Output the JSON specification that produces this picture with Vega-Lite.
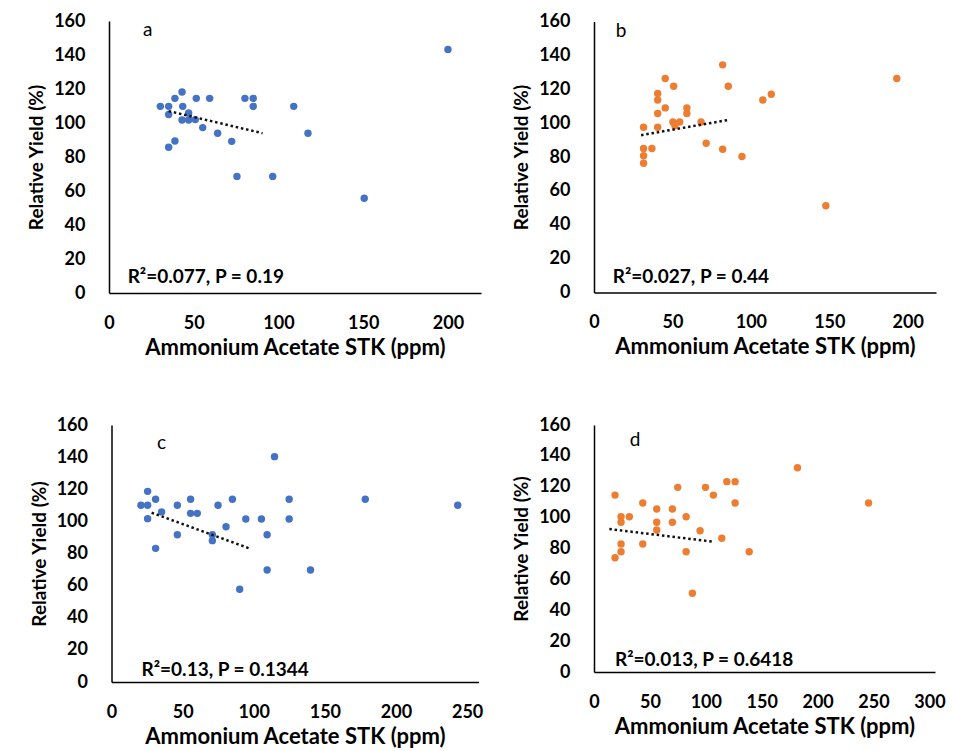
{
  "$schema": "https://vega.github.io/schema/vega-lite/v6.json",
  "background": "white",
  "padding": {"left": 27, "top": 12, "right": 5, "bottom": 5},
  "columns": 2,
  "bounds": "flush",
  "center": true,
  "spacing": {"row": 132, "column": 113},
  "datasets": {
    "pts": [
      {"panel": "a", "x": 200, "y": 143.3}, {"panel": "a", "x": 43.1, "y": 118.2}, {"panel": "a", "x": 38.9, "y": 114.5}, {"panel": "a", "x": 51.5, "y": 114.5}, {"panel": "a", "x": 59.4, "y": 114.5}, {"panel": "a", "x": 80.2, "y": 114.5}, {"panel": "a", "x": 85.1, "y": 114.5}, {"panel": "a", "x": 30.3, "y": 109.8}, {"panel": "a", "x": 35.2, "y": 109.8}, {"panel": "a", "x": 43.5, "y": 109.8}, {"panel": "a", "x": 85.1, "y": 109.8}, {"panel": "a", "x": 109, "y": 109.8}, {"panel": "a", "x": 35.2, "y": 105}, {"panel": "a", "x": 47, "y": 105.9}, {"panel": "a", "x": 43.1, "y": 101.8}, {"panel": "a", "x": 47, "y": 101.8}, {"panel": "a", "x": 50.9, "y": 102}, {"panel": "a", "x": 55.3, "y": 97.3}, {"panel": "a", "x": 64.1, "y": 94}, {"panel": "a", "x": 117.4, "y": 94}, {"panel": "a", "x": 72.4, "y": 89.2}, {"panel": "a", "x": 38.9, "y": 89.4}, {"panel": "a", "x": 35.2, "y": 85.7}, {"panel": "a", "x": 75.5, "y": 68.6}, {"panel": "a", "x": 96.6, "y": 68.6}, {"panel": "a", "x": 150.6, "y": 55.7},
      {"panel": "b", "x": 193, "y": 126.3}, {"panel": "b", "x": 147.8, "y": 51.2}, {"panel": "b", "x": 82, "y": 134.4}, {"panel": "b", "x": 85.6, "y": 121.8}, {"panel": "b", "x": 45.4, "y": 126.3}, {"panel": "b", "x": 50.8, "y": 121.8}, {"panel": "b", "x": 40.6, "y": 117.5}, {"panel": "b", "x": 40.6, "y": 113.7}, {"panel": "b", "x": 45.4, "y": 109}, {"panel": "b", "x": 40.6, "y": 105.7}, {"panel": "b", "x": 59.2, "y": 109}, {"panel": "b", "x": 59.2, "y": 105.7}, {"panel": "b", "x": 107.6, "y": 113.7}, {"panel": "b", "x": 113, "y": 117}, {"panel": "b", "x": 31.6, "y": 97.6}, {"panel": "b", "x": 40.6, "y": 97.6}, {"panel": "b", "x": 50.3, "y": 100.7}, {"panel": "b", "x": 54.6, "y": 100.7}, {"panel": "b", "x": 51.6, "y": 98.4}, {"panel": "b", "x": 68.2, "y": 100.7}, {"panel": "b", "x": 71.5, "y": 88.1}, {"panel": "b", "x": 82, "y": 84.6}, {"panel": "b", "x": 94.3, "y": 80.3}, {"panel": "b", "x": 31.6, "y": 85}, {"panel": "b", "x": 36.9, "y": 85}, {"panel": "b", "x": 31.6, "y": 80.7}, {"panel": "b", "x": 31.6, "y": 76.3},
      {"panel": "c", "x": 114.6, "y": 140.3}, {"panel": "c", "x": 178.4, "y": 113.8}, {"panel": "c", "x": 243.4, "y": 110}, {"panel": "c", "x": 25.4, "y": 118.7}, {"panel": "c", "x": 20.7, "y": 110}, {"panel": "c", "x": 25.4, "y": 110}, {"panel": "c", "x": 31, "y": 113.8}, {"panel": "c", "x": 35.2, "y": 105.9}, {"panel": "c", "x": 25.4, "y": 101.7}, {"panel": "c", "x": 31, "y": 83.2}, {"panel": "c", "x": 46.3, "y": 110}, {"panel": "c", "x": 46.3, "y": 91.7}, {"panel": "c", "x": 55.6, "y": 113.8}, {"panel": "c", "x": 55.6, "y": 105}, {"panel": "c", "x": 60.3, "y": 105}, {"panel": "c", "x": 74.9, "y": 110}, {"panel": "c", "x": 85, "y": 113.8}, {"panel": "c", "x": 80.5, "y": 96.7}, {"panel": "c", "x": 70.9, "y": 91.7}, {"panel": "c", "x": 70.9, "y": 88}, {"panel": "c", "x": 94.4, "y": 101.5}, {"panel": "c", "x": 105.4, "y": 101.5}, {"panel": "c", "x": 124.9, "y": 113.8}, {"panel": "c", "x": 124.9, "y": 101.5}, {"panel": "c", "x": 109.4, "y": 91.7}, {"panel": "c", "x": 109.4, "y": 69.7}, {"panel": "c", "x": 139.9, "y": 69.7}, {"panel": "c", "x": 90.1, "y": 57.7},
      {"panel": "d", "x": 182, "y": 132.3}, {"panel": "d", "x": 245.6, "y": 109.5}, {"panel": "d", "x": 18.8, "y": 114.6}, {"panel": "d", "x": 74.9, "y": 119.6}, {"panel": "d", "x": 99.7, "y": 119.6}, {"panel": "d", "x": 106.8, "y": 114.6}, {"panel": "d", "x": 118.8, "y": 123.3}, {"panel": "d", "x": 126.2, "y": 123.3}, {"panel": "d", "x": 126.2, "y": 109.5}, {"panel": "d", "x": 43.6, "y": 109.5}, {"panel": "d", "x": 56.1, "y": 105.6}, {"panel": "d", "x": 70.1, "y": 105.6}, {"panel": "d", "x": 24.2, "y": 100.6}, {"panel": "d", "x": 31.6, "y": 100.6}, {"panel": "d", "x": 24.2, "y": 97}, {"panel": "d", "x": 56.1, "y": 97}, {"panel": "d", "x": 70.1, "y": 97}, {"panel": "d", "x": 82.4, "y": 100.6}, {"panel": "d", "x": 56.1, "y": 92}, {"panel": "d", "x": 94.9, "y": 91.5}, {"panel": "d", "x": 114.3, "y": 86.6}, {"panel": "d", "x": 24.2, "y": 82.9}, {"panel": "d", "x": 43.6, "y": 82.9}, {"panel": "d", "x": 24.2, "y": 77.9}, {"panel": "d", "x": 18.8, "y": 74}, {"panel": "d", "x": 82.4, "y": 77.9}, {"panel": "d", "x": 138.8, "y": 77.9}, {"panel": "d", "x": 88, "y": 51}
    ],
    "trend": [
      {"panel": "a", "x": 35.2, "y": 107}, {"panel": "a", "x": 90.6, "y": 94},
      {"panel": "b", "x": 30, "y": 92.9}, {"panel": "b", "x": 85.8, "y": 101.9},
      {"panel": "c", "x": 28.2, "y": 105.4}, {"panel": "c", "x": 98.1, "y": 82.8},
      {"panel": "d", "x": 13.7, "y": 92.6}, {"panel": "d", "x": 106.8, "y": 84.4}
    ],
    "notes": [
      {"panel": "a", "kind": "stat", "x": 11, "y": 9.4, "label": "R²=0.077, P = 0.19"},
      {"panel": "a", "kind": "letter", "x": 22.8, "y": 154.7, "label": "a"},
      {"panel": "b", "kind": "stat", "x": 11.9, "y": 8.9, "label": "R²=0.027, P = 0.44"},
      {"panel": "b", "kind": "letter", "x": 17.2, "y": 154.5, "label": "b"},
      {"panel": "c", "kind": "stat", "x": 21.1, "y": 7.5, "label": "R²=0.13, P = 0.1344"},
      {"panel": "c", "kind": "letter", "x": 35.2, "y": 148.6, "label": "c"},
      {"panel": "d", "kind": "stat", "x": 18.8, "y": 7.8, "label": "R²=0.013, P = 0.6418"},
      {"panel": "d", "kind": "letter", "x": 36.7, "y": 150.3, "label": "d"}
    ]
  },
  "concat": [
    {
      "width": 372, "height": 272,
      "encoding": {
        "x": {"field": "x", "type": "quantitative", "scale": {"domain": [0, 219.5], "nice": false}, "axis": {"values": [0, 50, 100, 150, 200], "title": "Ammonium Acetate STK (ppm)"}},
        "y": {"field": "y", "type": "quantitative", "scale": {"domain": [0, 160], "nice": false}, "axis": {"values": [0, 20, 40, 60, 80, 100, 120, 140, 160], "title": "Relative Yield (%)"}}
      },
      "layer": [
        {"data": {"name": "pts"}, "transform": [{"filter": "datum.panel === 'a'"}], "mark": {"type": "circle", "size": 55, "opacity": 1, "color": "#4472C4"}},
        {"data": {"name": "trend"}, "transform": [{"filter": "datum.panel === 'a'"}], "mark": {"type": "line", "color": "#111111", "strokeWidth": 2.5, "strokeDash": [2.5, 2.8]}},
        {"data": {"name": "notes"}, "transform": [{"filter": "datum.panel === 'a' && datum.kind === 'stat'"}], "mark": {"type": "text", "align": "left", "baseline": "middle", "font": "Lato", "fontWeight": "bold", "fontSize": 19, "color": "#000"}, "encoding": {"text": {"field": "label"}}},
        {"data": {"name": "notes"}, "transform": [{"filter": "datum.panel === 'a' && datum.kind === 'letter'"}], "mark": {"type": "text", "align": "center", "baseline": "middle", "font": "Lato", "fontSize": 19, "color": "#000"}, "encoding": {"text": {"field": "label"}}}
      ]
    },
    {
      "width": 342, "height": 271,
      "encoding": {
        "x": {"field": "x", "type": "quantitative", "scale": {"domain": [0, 218], "nice": false}, "axis": {"values": [0, 50, 100, 150, 200], "title": "Ammonium Acetate STK (ppm)"}},
        "y": {"field": "y", "type": "quantitative", "scale": {"domain": [0, 160], "nice": false}, "axis": {"values": [0, 20, 40, 60, 80, 100, 120, 140, 160], "title": "Relative Yield (%)"}}
      },
      "layer": [
        {"data": {"name": "pts"}, "transform": [{"filter": "datum.panel === 'b'"}], "mark": {"type": "circle", "size": 55, "opacity": 1, "color": "#ED7D31"}},
        {"data": {"name": "trend"}, "transform": [{"filter": "datum.panel === 'b'"}], "mark": {"type": "line", "color": "#111111", "strokeWidth": 2.5, "strokeDash": [2.5, 2.8]}},
        {"data": {"name": "notes"}, "transform": [{"filter": "datum.panel === 'b' && datum.kind === 'stat'"}], "mark": {"type": "text", "align": "left", "baseline": "middle", "font": "Lato", "fontWeight": "bold", "fontSize": 19, "color": "#000"}, "encoding": {"text": {"field": "label"}}},
        {"data": {"name": "notes"}, "transform": [{"filter": "datum.panel === 'b' && datum.kind === 'letter'"}], "mark": {"type": "text", "align": "center", "baseline": "middle", "font": "Lato", "fontSize": 19, "color": "#000"}, "encoding": {"text": {"field": "label"}}}
      ]
    },
    {
      "width": 367, "height": 257,
      "encoding": {
        "x": {"field": "x", "type": "quantitative", "scale": {"domain": [0, 258], "nice": false}, "axis": {"values": [0, 50, 100, 150, 200, 250], "title": "Ammonium Acetate STK (ppm)"}},
        "y": {"field": "y", "type": "quantitative", "scale": {"domain": [0, 160], "nice": false}, "axis": {"values": [0, 20, 40, 60, 80, 100, 120, 140, 160], "title": "Relative Yield (%)"}}
      },
      "layer": [
        {"data": {"name": "pts"}, "transform": [{"filter": "datum.panel === 'c'"}], "mark": {"type": "circle", "size": 55, "opacity": 1, "color": "#4472C4"}},
        {"data": {"name": "trend"}, "transform": [{"filter": "datum.panel === 'c'"}], "mark": {"type": "line", "color": "#111111", "strokeWidth": 2.5, "strokeDash": [2.5, 2.8]}},
        {"data": {"name": "notes"}, "transform": [{"filter": "datum.panel === 'c' && datum.kind === 'stat'"}], "mark": {"type": "text", "align": "left", "baseline": "middle", "font": "Lato", "fontWeight": "bold", "fontSize": 19, "color": "#000"}, "encoding": {"text": {"field": "label"}}},
        {"data": {"name": "notes"}, "transform": [{"filter": "datum.panel === 'c' && datum.kind === 'letter'"}], "mark": {"type": "text", "align": "center", "baseline": "middle", "font": "Lato", "fontSize": 19, "color": "#000"}, "encoding": {"text": {"field": "label"}}}
      ]
    },
    {
      "width": 341, "height": 247,
      "encoding": {
        "x": {"field": "x", "type": "quantitative", "scale": {"domain": [0, 305], "nice": false}, "axis": {"values": [0, 50, 100, 150, 200, 250, 300], "title": "Ammonium Acetate STK (ppm)"}},
        "y": {"field": "y", "type": "quantitative", "scale": {"domain": [0, 160], "nice": false}, "axis": {"values": [0, 20, 40, 60, 80, 100, 120, 140, 160], "title": "Relative Yield (%)"}}
      },
      "layer": [
        {"data": {"name": "pts"}, "transform": [{"filter": "datum.panel === 'd'"}], "mark": {"type": "circle", "size": 55, "opacity": 1, "color": "#ED7D31"}},
        {"data": {"name": "trend"}, "transform": [{"filter": "datum.panel === 'd'"}], "mark": {"type": "line", "color": "#111111", "strokeWidth": 2.5, "strokeDash": [2.5, 2.8]}},
        {"data": {"name": "notes"}, "transform": [{"filter": "datum.panel === 'd' && datum.kind === 'stat'"}], "mark": {"type": "text", "align": "left", "baseline": "middle", "font": "Lato", "fontWeight": "bold", "fontSize": 19, "color": "#000"}, "encoding": {"text": {"field": "label"}}},
        {"data": {"name": "notes"}, "transform": [{"filter": "datum.panel === 'd' && datum.kind === 'letter'"}], "mark": {"type": "text", "align": "center", "baseline": "middle", "font": "Lato", "fontSize": 19, "color": "#000"}, "encoding": {"text": {"field": "label"}}}
      ]
    }
  ],
  "config": {
    "view": {"stroke": null},
    "axis": {
      "grid": false, "ticks": false, "labelFlush": false,
      "domainColor": "#000", "domainWidth": 1.5,
      "labelFont": "Lato", "labelFontWeight": "bold", "labelFontSize": 18, "labelColor": "#000",
      "titleFont": "Lato", "titleFontWeight": "bold", "titleColor": "#000"
    },
    "axisY": {"labelPadding": 24, "titlePadding": 7, "titleFontSize": 19},
    "axisX": {"labelPadding": 21, "titlePadding": 5, "titleFontSize": 22}
  }
}
